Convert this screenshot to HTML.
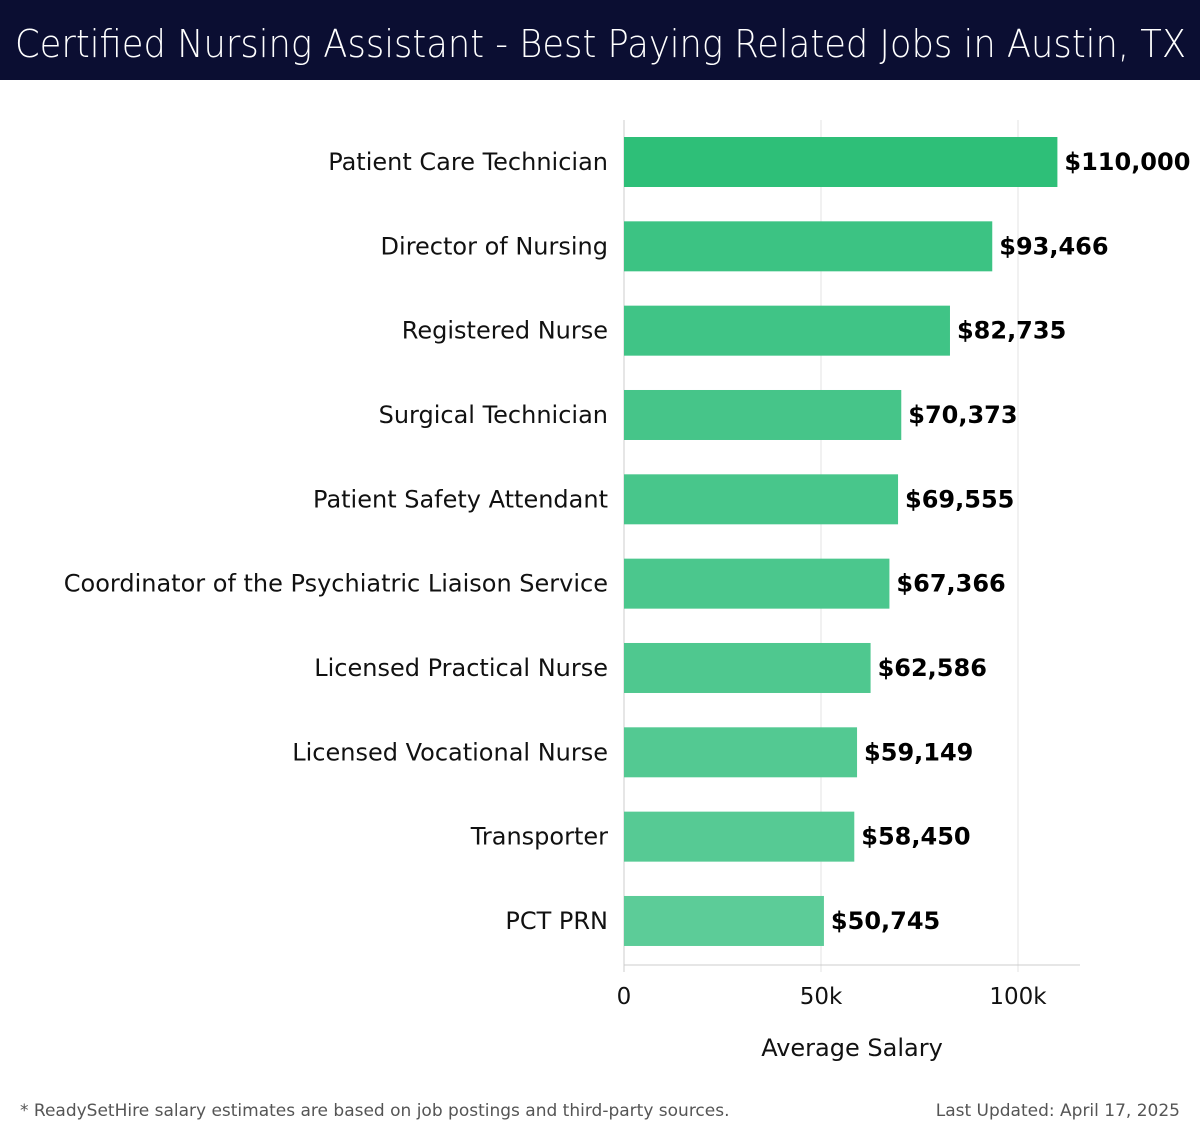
<!DOCTYPE html>
<html><head><meta charset="utf-8"><style>
body{margin:0;width:1200px;height:1140px;background:#fff;font-family:"DejaVu Sans","Liberation Sans",sans-serif;overflow:hidden}
#titlebar{position:absolute;left:0;top:0;width:1200px;height:80px;background:#0b0e32}
.foot{position:absolute;top:1101px;font-size:17px;color:#555}
</style></head><body>
<div id="titlebar"></div>
<svg id="chart" width="1200" height="1140" style="position:absolute;left:0;top:0">
<text x="15" y="57" font-size="38" fill="#fff" font-weight="300" textLength="1171" lengthAdjust="spacingAndGlyphs">Certified Nursing Assistant - Best Paying Related Jobs in Austin, TX</text>
</svg>
<div class="foot" style="left:20px">* ReadySetHire salary estimates are based on job postings and third-party sources.</div>
<div class="foot" style="right:20px">Last Updated: April 17, 2025</div>
<script>
const categories=["Patient Care Technician","Director of Nursing","Registered Nurse","Surgical Technician","Patient Safety Attendant","Coordinator of the Psychiatric Liaison Service","Licensed Practical Nurse","Licensed Vocational Nurse","Transporter","PCT PRN"];
const values=[110000,93466,82735,70373,69555,67366,62586,59149,58450,50745];
const ticks=[0,50000,100000];
const tickLabels=["0","50k","100k"];
const NS="http://www.w3.org/2000/svg";
const svg=document.getElementById('chart');
const x=v=>624+v*197/50000;
const y=i=>162+i*84.33;
function mk(t,a,p){const e=document.createElementNS(NS,t);for(const k in a)e.setAttribute(k,a[k]);(p||svg).appendChild(e);return e;}
ticks.forEach((t,i)=>{
 const g=mk('line',{x1:x(t),x2:x(t),y1:120,y2:972,stroke:i==0?'#ccc':'#e3e3e3','stroke-width':1});
 
 
 const l=mk('text',{x:x(t),y:1004,'font-size':23,'text-anchor':'middle',fill:'#111'});
 l.textContent=tickLabels[i];
 
 
});
const ax=mk('line',{x1:624,x2:1080,y1:965,y2:965,stroke:'#ccc'});


const at=mk('text',{x:852,y:1056,'font-size':24,'text-anchor':'middle',fill:'#111'});
at.textContent='Average Salary';


const cols=['#2ebf78','#3cc383','#40c486','#46c589','#48c68b','#4bc78d','#4fc88f','#53c992','#56ca94','#5ccc98'];
categories.forEach((c,i)=>{
 const r=mk('rect',{x:x(0),y:y(i)-25,width:x(values[i])-x(0),height:50,fill:cols[i]});
 
 
 const l=mk('text',{x:608,y:y(i)+8,'font-size':24,'text-anchor':'end',fill:'#111'});
 l.textContent=c;
 
 
 const v=mk('text',{x:x(values[i])+7,y:y(i)+8,'font-size':24,'font-weight':'bold',fill:'#000'});
 v.textContent='$'+values[i].toLocaleString('en-US');
 
 
});
</script>
</body></html>
